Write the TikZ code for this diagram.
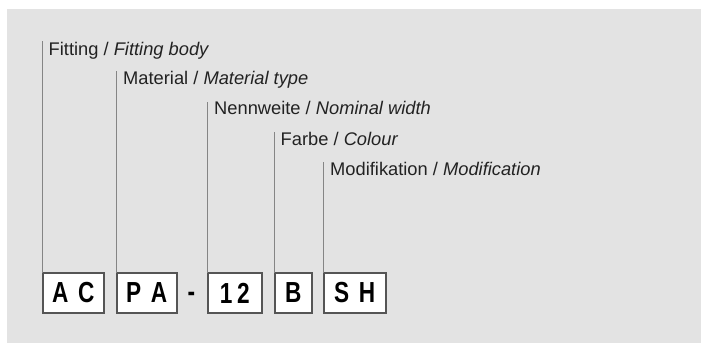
\documentclass[tikz,border=0pt]{standalone}
\usepackage{fontspec}
\setmainfont{Liberation Sans}
\newfontfamily\condbold[FakeStretch=0.78]{Liberation Sans Bold}
\definecolor{bg}{HTML}{E3E3E3}
\definecolor{lead}{HTML}{858585}
\definecolor{frame}{HTML}{555555}
\definecolor{txt}{HTML}{222222}
\begin{document}
\begin{tikzpicture}[x=1pt,y=-1pt,
  codebox/.style={draw=frame,line width=2pt,fill=white,inner sep=0pt,outer sep=0pt,
    minimum height=40pt,font=\condbold\fontsize{29}{29}\selectfont,text=black},
  leader/.style={draw=lead,line width=1.2pt},
  lbl/.style={anchor=base west,inner sep=0pt,text=txt,font=\fontsize{18.3}{18.3}\selectfont}]
\useasboundingbox (0,0) rectangle (701,343);
\fill[bg] (7,9) rectangle (701,343);
% code boxes
\node[codebox,minimum width=61.5pt] (ac) at (73.25,293) {A\,\,C};
\node[codebox,minimum width=60.5pt] (pa) at (146.75,293) {P\,\,A};
\node[inner sep=0pt,font=\condbold\fontsize{29}{29}\selectfont] (dash) at (191.5,296.5) {-};
\node[codebox,minimum width=54.5pt] (nw) at (234.75,293) {1\,2};
\node[codebox,minimum width=37.5pt] (fb) at (293.25,293) {B};
\node[codebox,minimum width=62.5pt] (sh) at (354.75,293) {S\,\,H};
% leader tops
\coordinate (tac) at (42.5,40.7);
\coordinate (tpa) at (116.5,71);
\coordinate (tnw) at (207.5,101.5);
\coordinate (tfb) at (274.5,132);
\coordinate (tsh) at (323.5,161.5);
\draw[leader] (ac.north west) -- (tac);
\draw[leader] (pa.north west) -- (tpa);
\draw[leader] (nw.north west) -- (tnw);
\draw[leader] (fb.north west) -- (tfb);
\draw[leader] (sh.north west) -- (tsh);
% labels
\node[lbl] (lac) at (48.5,55) {Fitting / \textit{Fitting body}};
\node[lbl] (lpa) at (123,84.5) {Material / \textit{Material type}};
\node[lbl] (lnw) at (214,114.5) {Nennweite / \textit{Nominal width}};
\node[lbl] (lfb) at (280.5,145) {Farbe / \textit{Colour}};
\node[lbl] (lsh) at (330,175.5) {Modifikation / \textit{Modification}};
\end{tikzpicture}
\end{document}
